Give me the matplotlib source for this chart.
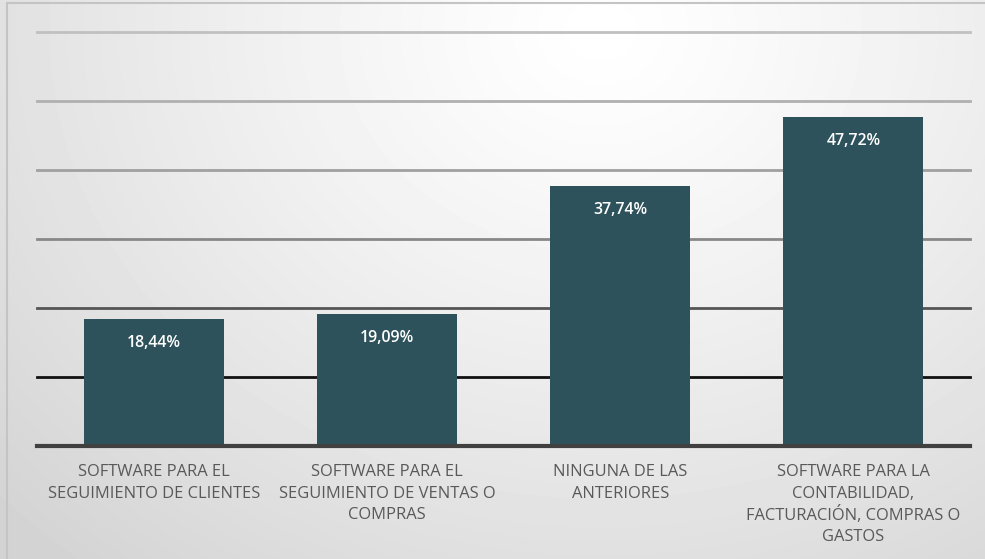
import matplotlib.pyplot as plt
import numpy as np
from matplotlib.patches import Rectangle

categories = [
    "SOFTWARE PARA EL\nSEGUIMIENTO DE CLIENTES",
    "SOFTWARE PARA EL\nSEGUIMIENTO DE VENTAS O\nCOMPRAS",
    "NINGUNA DE LAS\nANTERIORES",
    "SOFTWARE PARA LA\nCONTABILIDAD,\nFACTURACIÓN, COMPRAS O\nGASTOS",
]
values = [18.44, 19.09, 37.74, 47.72]
labels = ["18,44%", "19,09%", "37,74%", "47,72%"]
grid_levels = [10, 20, 30, 40, 50, 60]
grid_colors = ["#111111", "#555555", "#888888", "#a0a0a0", "#b0b0b0", "#c0c0c0"]

plt.rcParams["font.family"] = ["Open Sans", "DejaVu Sans"]

W, H = 985, 559
fig = plt.figure(figsize=(W / 100, H / 100), dpi=100)

# soft radial background
bg = fig.add_axes([0, 0, 1, 1], zorder=-10)
yy, xx = np.mgrid[0:H, 0:W]
d = np.hypot((xx - 600) / 1.0, (yy - 30) / 0.85)
shade = 1.0 - 0.17 * np.clip(d / 820, 0, 1) ** 1.2
bg.imshow(shade, cmap="gray", vmin=0, vmax=1, extent=[0, W, H, 0], aspect="auto")
bg.set_axis_off()

fig.patches.append(Rectangle((7 / W, -0.05), 1.1, (H - 3) / H + 0.05, transform=fig.transFigure,
                             fill=False, edgecolor="#c4c4c4", linewidth=1.5))

left, right = 37 / W, 970 / W
bottom, top = (H - 446) / H, (H - 32) / H
ax = fig.add_axes([left, bottom, right - left, top - bottom])
ax.set_facecolor("none")

x = np.arange(len(categories))
for lvl, col in zip(grid_levels, grid_colors):
    ax.axhline(lvl, color=col, linewidth=2, zorder=1, clip_on=False)
ax.axhline(0, color="#404040", linewidth=3, zorder=3, clip_on=False)

bars = ax.bar(x, values, width=0.6, color="#2e525b", zorder=2)
for rect, lab in zip(bars, labels):
    ax.annotate(lab, (rect.get_x() + rect.get_width() / 2, rect.get_height()),
                xytext=(0, -24), textcoords="offset pixels", ha="center", va="center",
                color="white", fontsize=11.4, fontweight="semibold")

# category labels, one line at a time so accents don't stretch the spacing
for xi, cat in zip(x, categories):
    for j, line in enumerate(cat.split("\n")):
        ax.annotate(line, (xi, 0), xycoords=("data", "axes fraction"),
                    xytext=(0, -24 - 21.7 * j), textcoords="offset pixels",
                    ha="center", va="center_baseline", fontsize=11.9, color="#595959")

ax.set_xlim(-0.5, 3.5)
ax.set_ylim(0, 60)
ax.set_xticks([])
ax.set_yticks([])
for s in ax.spines.values():
    s.set_visible(False)

fig.savefig("out.png", dpi=100)
